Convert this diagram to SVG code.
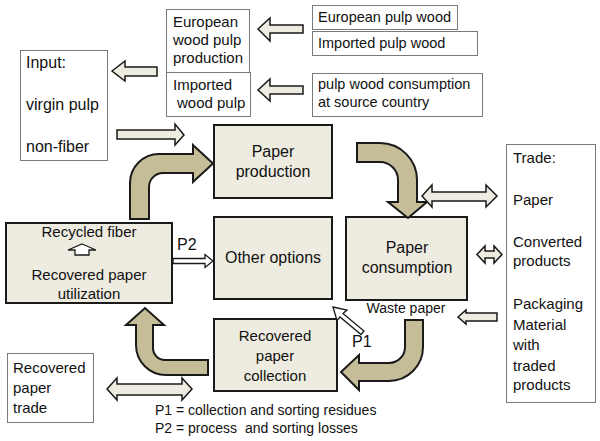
<svg xmlns="http://www.w3.org/2000/svg" width="600" height="441" viewBox="0 0 600 441">
<style>
text{font-family:"Liberation Sans",Arial,sans-serif;fill:#111}
.wb{fill:#fff;stroke:#7a7a7a;stroke-width:1}
.tb{fill:#eeece1;stroke:#1a1a1a;stroke-width:2}
.big{fill:#c4bd97;stroke:#1a1a1a;stroke-width:2;stroke-linejoin:miter}
.ho{fill:#eeece1;stroke:#1a1a1a;stroke-width:1.5;stroke-linejoin:miter}
.wh{fill:#fff;stroke:#1a1a1a;stroke-width:1.3;stroke-linejoin:miter}
.s16{font-size:16px}.s15{font-size:15px}.s14{font-size:14px}.s145{font-size:14.5px}
.c{text-anchor:middle}
</style>
<rect width="600" height="441" fill="#fff"/>

<g id="input">
<rect class="wb" x="20.5" y="50.5" width="87" height="110"/>
<text class="s16" x="26" y="68">Input:</text>
<text class="s16" x="26" y="110">virgin pulp</text>
<text class="s16" x="26" y="152">non-fiber</text>
</g>
<g id="european-wood-pulp">
<rect class="wb" x="166.5" y="9.5" width="83" height="63"/>
<text class="s15" x="173" y="27">European</text>
<text class="s15" x="173" y="45">wood pulp</text>
<text class="s15" x="173" y="63">production</text>
</g>
<g id="imported-wood-pulp">
<rect class="wb" x="166.5" y="72.5" width="84" height="44"/>
<text class="s15" x="173" y="90">Imported</text>
<text class="s15" x="177" y="108">wood pulp</text>
</g>
<g id="european-pulp-wood">
<rect class="wb" x="312.5" y="5.5" width="145" height="24"/>
<text class="s145" x="318" y="22">European pulp wood</text>
</g>
<g id="imported-pulp-wood">
<rect class="wb" x="312.5" y="31.5" width="165" height="24"/>
<text class="s145" x="318" y="48">Imported pulp wood</text>
</g>
<g id="pulp-wood-consumption">
<rect class="wb" x="312.5" y="73.5" width="170" height="43"/>
<text class="s145" x="318" y="89">pulp wood consumption</text>
<text class="s145" x="318" y="107">at source country</text>
</g>
<g id="paper-production">
<rect class="tb" x="214" y="125" width="118" height="73"/>
<text class="s16 c" x="273" y="157">Paper</text>
<text class="s16 c" x="273" y="177">production</text>
</g>
<g id="other-options">
<rect class="tb" x="214" y="217" width="118" height="82"/>
<text class="s16 c" x="273" y="263">Other options</text>
</g>
<g id="paper-consumption">
<rect class="tb" x="346" y="217" width="121" height="83"/>
<text class="s16 c" x="407" y="253">Paper</text>
<text class="s16 c" x="407" y="273">consumption</text>
</g>
<g id="recovered-paper-utilization">
<rect class="tb" x="6" y="223" width="166" height="80"/>
<text class="s15 c" x="89" y="237">Recycled fiber</text>
<path class="wh" d="M82,244 L96,250 L89,250 L89,255 L75,255 L75,250 L68,250 Z"/>
<text class="s15 c" x="89" y="280">Recovered paper</text>
<text class="s15 c" x="89" y="299">utilization</text>
</g>
<g id="recovered-paper-collection">
<rect class="tb" x="214" y="319" width="123" height="72"/>
<text class="s15 c" x="275" y="341">Recovered</text>
<text class="s15 c" x="275" y="361">paper</text>
<text class="s15 c" x="275" y="381">collection</text>
</g>
<g id="trade">
<rect class="wb" x="506.5" y="144.5" width="89" height="258"/>
<text class="s15" x="513" y="163">Trade:</text>
<text class="s15" x="513" y="205">Paper</text>
<text class="s15" x="513" y="247">Converted</text>
<text class="s15" x="513" y="266">products</text>
<text class="s15" x="513" y="309">Packaging</text>
<text class="s15" x="513" y="330">Material</text>
<text class="s15" x="513" y="350">with</text>
<text class="s15" x="513" y="371">traded</text>
<text class="s15" x="513" y="390">products</text>
</g>
<g id="recovered-paper-trade">
<rect class="wb" x="7.5" y="353.5" width="86" height="69"/>
<text class="s15" x="13" y="373">Recovered</text>
<text class="s15" x="13" y="393">paper</text>
<text class="s15" x="13" y="413">trade</text>
</g>

<g id="connectors">
<path class="big" d="M130,219 L130,183 A29,29 0 0 1 159,154 L193,154 L193,145 L213,163.5 L193,182 L193,173 L163,173 A14,14 0 0 0 149,187 L149,219 Z"/>
<path class="big" d="M357,143 L380,143 A37,37 0 0 1 417,180 L417,202 L427,202 L408,218 L388,202 L398,202 L398,180 A18,18 0 0 0 380,162 L357,162 Z"/>
<path class="big" d="M405,320 L423,320 L423,347 A34,34 0 0 1 389,381 L359,381 L359,390 L341,372 L359,355 L359,363 L389,363 A16,16 0 0 0 405,347 Z"/>
<path class="big" d="M208,360 L208,375 L166,375 A30,30 0 0 1 136,345 L136,325 L126,325 L145,308 L164,325 L153,325 L153,348 A12,12 0 0 0 165,360 Z"/>

<path class="ho" d="M258,29 L270,18 L270,25 L303,25 L303,33 L270,33 L270,41 Z"/>
<path class="ho" d="M258,90 L270,79 L270,86 L303,86 L303,94 L270,94 L270,101 Z"/>
<path class="ho" d="M112,71 L125,61 L125,67 L157,67 L157,76 L125,76 L125,81 Z"/>
<path class="ho" d="M184,135 L175,124 L175,130 L117,130 L117,139 L175,139 L175,145 Z"/>
<path class="ho" d="M422,196 L432,185 L432,192 L486,192 L486,185 L497,196 L486,207 L486,201 L432,201 L432,207 Z"/>
<path class="ho" d="M477,254.5 L485,246 L485,251 L494,251 L494,246 L502,254.5 L494,263 L494,258 L485,258 L485,263 Z"/>
<path class="ho" d="M458,317 L466,310 L466,313 L497,313 L497,321 L466,321 L466,324 Z"/>
<path class="ho" d="M107,389 L117,378 L117,384 L182,384 L182,378 L192,389 L182,400 L182,395 L117,395 L117,400 Z"/>

<path class="wh" d="M213,261 L205,254.5 L205,258.5 L173,258.5 L173,263.5 L205,263.5 L205,267.5 Z"/>
<path class="wh" d="M333,307 L347,310 L343,313.5 L364,331 L361,334.5 L340,317 L337,320.5 Z"/>
<text class="s16" x="177" y="250">P2</text>
<text class="s16" x="352" y="347">P1</text>
<text class="s14 c" x="406" y="313">Waste paper</text>
</g>
<g id="legend">
<text class="s14" x="155" y="415">P1 = collection and sorting residues</text>
<text class="s14" x="155" y="433" xml:space="preserve">P2 = process  and sorting losses</text>
</g>
</svg>
